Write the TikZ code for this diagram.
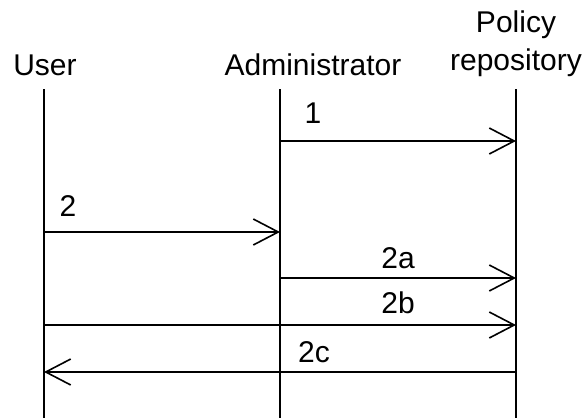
\documentclass[tikz,border=0pt]{standalone}
\usepackage{fontspec}
\setmainfont{Liberation Sans}
\usepackage{tikz}
\usetikzlibrary{arrows.meta,positioning}

\tikzset{
  lifeline/.style={line width=1.6pt},
  msg/.style={line width=1.6pt,-{Straight Barb[length=25pt,width=26pt,line width=1.6pt]}},
  lbl/.style={anchor=base,inner sep=0pt,font=\fontsize{30}{36}\selectfont}
}

\begin{document}
\begin{tikzpicture}[x=1pt,y=-1pt]
\useasboundingbox (0,0) rectangle (586,418);
% heads
\node[lbl] (user) at (45,75) {User};
\node[lbl] (admin) at (313,75) {Administrator};
\node[lbl] (policy) at (516,32) {Policy};
\node[lbl] (repo) at (516,70) {repository};
% lifelines
\foreach \n/\x in {u/44,a/280,r/516} {
  \coordinate (\n top) at (\x,89);
  \coordinate (\n bot) at (\x,418);
  \draw[lifeline] (\n top) -- (\n bot);
}
% message points on each lifeline
\foreach \m/\y in {1/141,2/232,2a/278,2b/325,2c/372} {
  \coordinate (u\m) at (44,\y);
  \coordinate (a\m) at (280,\y);
  \coordinate (r\m) at (516,\y);
}
\draw[msg] (a1) -- (r1);
\draw[msg] (u2) -- (a2);
\draw[msg] (a2a) -- (r2a);
\draw[msg] (u2b) -- (r2b);
\draw[msg] (r2c) -- (u2c);
% message labels
\foreach \t/\x/\y in {1/313/123,2/68/216,2a/398/268,2b/398/313,2c/314/362}
  \node[lbl] (m\t) at (\x,\y) {\t};
\end{tikzpicture}
\end{document}
